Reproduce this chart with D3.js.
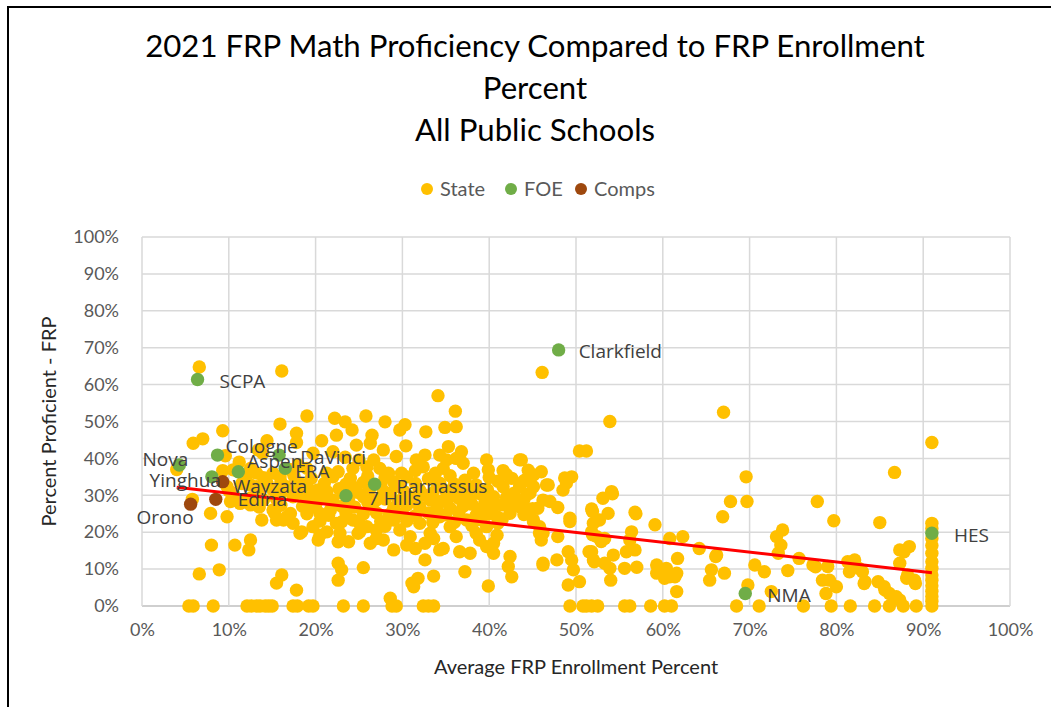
<!DOCTYPE html>
<html lang="en">
<head>
<meta charset="UTF-8" />
<title>2021 FRP Math Proficiency Compared to FRP Enrollment Percent</title>
<script src="https://d3js.org/d3.v7.min.js"></script>
<style>
  body { margin: 0; background: #fff; }
  svg { display: block; }
  .title { font-family: Lato, "Open Sans", sans-serif; fill: #000; }
  .tick-label { font-family: Lato, "Open Sans", sans-serif; font-size: 18px; fill: #595959; }
  .axis-title { font-family: Lato, "Open Sans", sans-serif; font-size: 20px; fill: #262626; }
  .legend-label { font-family: Lato, "Open Sans", sans-serif; font-size: 20px; fill: #595959; }
  .dlabel { font-family: "Open Sans", sans-serif; font-size: 19px; fill: #404040; }
</style>
</head>
<body>
<svg id="chart" width="1051" height="707"></svg>
<script>
// ---- data (percent) ----
const titleLines = ["2021 FRP Math Proficiency Compared to FRP Enrollment", "Percent", "All Public Schools"];
const seriesNames = ["State", "FOE", "Comps"];
const seriesColors = ["#FFC000", "#70AD47", "#9E480E"];
const xTicks = [0, 10, 20, 30, 40, 50, 60, 70, 80, 90, 100];
const yTicks = [0, 10, 20, 30, 40, 50, 60, 70, 80, 90, 100];

const statePoints = [
  [6.6,64.8],[16.1,63.7],[46.1,63.3],[34.1,57.0],[36.1,52.8],[67.0,52.5],[53.9,50.0],[34.9,48.4],[36.2,48.6],
  [19.0,51.5],[22.2,50.9],[23.4,49.9],[25.8,51.5],[28.0,49.9],[15.9,49.3],[9.3,47.5],[17.8,46.8],[22.4,46.3],
  [24.2,47.7],[26.5,46.3],[29.7,47.7],[30.3,49.1],[32.7,47.2],[7.0,45.3],[5.9,44.1],[14.4,44.8],[17.8,44.3],
  [20.7,44.8],[24.7,43.6],[26.3,44.1],[27.8,42.3],[30.4,43.4],[35.3,43.2],[91.0,44.3],[50.4,42.0],[51.2,42.0],
  [34.3,40.9],[36.8,41.8],[36.2,40.0],[37.0,38.7],[29.3,40.5],[9.6,40.7],[11.2,39.0],[13.9,41.4],[13.4,42.3],
  [19.7,41.4],[22.0,41.8],[23.4,40.3],[25.0,39.6],[26.7,39.6],[31.6,39.6],[32.6,40.9],[39.7,39.6],[43.5,39.6],
  [86.7,36.2],[69.6,35.0],[69.7,28.3],[67.8,28.3],[77.8,28.3],[66.9,24.2],[79.7,23.1],[85.0,22.6],
  [4.0,37.0],[9.3,36.7],[12.5,37.3],[13.2,36.0],[15.1,36.0],[15.9,35.0],[19.0,37.3],[21.3,36.0],[22.6,36.4],
  [24.3,37.3],[25.9,37.7],[27.4,37.3],[28.4,36.0],[29.9,36.0],[31.5,36.7],[32.4,37.7],[33.8,36.0],[34.7,37.3],
  [35.1,39.6],[37.2,34.1],[38.2,36.0],[39.9,36.9],[41.6,36.7],[42.6,34.6],[44.1,34.1],[45.1,35.5],[46.0,36.4],
  [46.6,32.8],[9.8,32.3],[10.5,30.5],[11.3,28.7],[13.2,32.3],[14.4,33.3],[15.1,31.4],[16.7,32.3],[17.4,29.6],
  [18.2,33.3],[19.7,29.6],[21.3,31.0],[22.0,28.7],[23.2,30.5],[24.3,32.3],[25.5,29.6],[27.0,28.7],[28.6,30.5],
  [29.7,32.3],[30.9,29.6],[32.0,31.4],[33.2,28.7],[34.3,33.3],[35.5,29.6],[36.6,31.4],[37.8,28.7],[38.9,30.5],
  [40.5,29.6],[41.6,32.3],[42.8,30.5],[43.9,27.8],[45.1,32.3],[46.2,28.7],[5.8,28.9],
  [7.9,25.1],[9.8,24.2],[13.8,23.3],[15.1,26.0],[15.5,23.3],[16.7,24.2],[17.4,22.4],[18.2,19.7],[19.7,21.5],
  [20.5,25.1],[21.7,26.0],[10.2,28.3],[11.3,27.8],[12.5,27.4],[15.3,25.1],[16.3,23.3],[17.1,25.1],[18.4,20.1],
  [20.5,19.2],[21.3,20.1],[22.4,22.4],[22.8,19.7],[24.3,23.3],[25.1,20.1],[25.9,21.5],[27.0,20.6],[27.8,17.9],
  [29.0,23.3],[29.7,20.6],[30.9,18.8],[32.0,22.4],[33.2,19.7],[34.3,24.2],[35.5,21.5],[36.2,18.8],[37.4,23.3],
  [38.5,19.7],[39.7,21.5],[40.5,17.0],[40.9,24.2],[42.4,25.1],[43.5,26.9],[45.1,23.3],[45.8,21.5],[46.2,19.7],
  [12.5,17.9],[12.3,15.2],[10.7,16.5],[8.0,16.5],[20.3,17.9],[22.6,17.4],[23.8,17.4],[24.9,19.7],[26.3,17.0],
  [27.0,18.3],[29.0,15.2],[30.5,16.5],[31.5,15.6],[32.6,17.0],[33.6,18.3],[34.3,15.2],[36.6,14.7],[37.8,14.3],
  [38.9,17.9],[40.5,14.3],[46.0,17.9],[34.7,15.6],[39.7,16.1],[40.9,19.2],[42.4,13.4],[42.2,10.7],[42.6,7.9],
  [6.6,8.7],[8.9,9.8],[16.1,8.4],[15.5,6.2],[17.8,4.3],[22.6,11.6],[23.0,9.8],[22.6,7.0],[25.5,10.4],[28.6,2.1],
  [31.3,5.2],[31.8,7.5],[32.6,12.5],[33.6,8.1],[37.2,9.3],[39.9,5.4],[46.2,11.6],[31.1,6.2],
  [43.7,39.6],[44.7,35.0],[43.9,33.7],[46.8,32.8],[49.5,35.0],[48.9,33.3],[48.5,31.4],[44.3,30.1],[43.5,27.8],
  [54.1,31.0],[53.1,29.2],[47.0,28.3],[47.9,26.7],[45.6,26.5],[56.8,25.4],[51.8,26.3],[53.7,25.1],[52.7,23.3],
  [49.3,23.8],[45.1,22.8],[45.8,19.7],[52.0,22.4],[51.8,20.1],[52.4,18.8],[59.1,22.0],[47.9,18.8],[56.4,20.1],
  [56.2,17.9],[56.8,15.2],[55.8,14.7],[53.3,18.3],[60.8,18.3],[62.3,18.8],[64.2,15.6],[51.8,14.7],[52.0,12.5],
  [53.3,11.6],[54.3,13.8],[53.9,10.2],[49.1,14.7],[49.5,12.5],[47.8,12.5],[46.2,11.1],[49.7,9.8],[66.2,13.8],
  [61.7,12.9],[55.6,10.2],[57.0,10.5],[59.3,11.1],[59.3,8.9],[60.4,10.2],[60.8,7.9],[61.6,8.9],[65.6,9.8],
  [65.4,7.0],[67.1,8.9],[70.6,11.1],[71.7,9.3],[49.1,5.7],[50.4,6.6],[54.0,7.0],[61.6,3.9],[69.8,5.7],
  [48.7,34.7],[49.3,22.9],[51.9,25.6],[54.2,30.4],[51.9,19.3],[52.9,17.5],[51.5,14.7],[52.1,12.0],[56.9,25.0],
  [66.1,13.4],[60.2,7.5],[61.4,7.9],
  [73.8,20.6],[73.1,18.8],[73.6,16.5],[73.3,14.3],[87.3,15.2],[88.4,16.1],[87.8,14.7],[75.7,12.9],[77.3,11.1],
  [79.0,10.7],[74.4,9.6],[81.3,12.0],[82.1,12.5],[81.5,9.3],[82.6,10.2],[83.0,9.3],[87.3,11.6],[88.2,8.4],
  [89.0,7.0],[78.4,7.0],[79.2,7.0],[80.0,5.2],[78.8,3.4],[83.3,6.6],[84.8,6.6],[85.5,5.2],[86.1,3.4],[86.9,2.5],
  [87.3,1.6],[72.5,3.9],[77.6,10.6],[83.2,6.1],[85.6,4.3],[88.1,7.5],[89.1,6.1],
  [91.0,22.4],[91.0,21.0],[91.0,18.3],[91.0,16.4],[91.0,14.3],[91.0,12.0],[91.0,10.2],[91.0,8.4],[91.0,7.0],
  [91.0,5.5],[91.0,4.0],[91.0,2.6],[91.0,1.3],
  [5.4,0],[5.9,0],[8.2,0],[12.1,0],[12.6,0],[13.2,0],[13.6,0],[14.2,0],[14.6,0],[15.0,0],[17.4,0],[17.9,0],
  [19.2,0],[19.7,0],[23.2,0],[25.5,0],[28.8,0],[29.3,0],[32.4,0],[33.0,0],[33.6,0],[49.3,0],[50.8,0],[51.2,0],
  [51.8,0],[52.5,0],[55.6,0],[56.2,0],[58.6,0],[60.2,0],[61.0,0],[68.5,0],[71.1,0],[76.2,0],[79.4,0],[81.6,0],
  [84.4,0],[86.1,0],[87.7,0],[89.2,0],[91.0,0],
  [22.0,35.0],[24.0,34.6],[26.0,35.2],[28.0,34.8],[30.5,35.0],[33.0,34.5],[35.5,35.3],[40.0,34.8],[42.0,35.6],
  [44.5,36.8],[21.0,33.2],[23.5,33.0],[25.5,33.5],[27.5,32.8],[29.0,33.6],[31.5,33.2],[34.0,32.5],[36.0,33.0],
  [38.5,32.8],[41.0,33.8],[43.5,32.4],[20.2,31.4],[22.7,31.8],[24.8,30.8],[26.2,31.5],[27.8,31.2],[30.2,31.0],
  [33.5,30.6],[35.0,31.2],[37.5,31.0],[39.8,31.5],[42.0,29.4],[44.7,30.6],[19.0,28.9],[21.0,29.3],[23.8,28.6],
  [26.0,28.2],[28.0,29.0],[29.5,28.5],[31.5,28.2],[32.5,30.0],[34.5,28.4],[36.5,29.2],[38.0,27.6],[39.5,28.2],
  [41.5,27.4],[44.0,29.0],[18.5,27.0],[20.0,27.3],[23.0,27.0],[24.5,26.8],[26.5,27.1],[29.0,26.6],[30.5,27.3],
  [32.0,26.8],[34.0,26.9],[35.5,26.5],[37.0,27.0],[39.0,26.3],[40.5,26.9],[42.5,27.6],[45.0,26.4],[19.0,25.0],
  [21.5,24.6],[23.5,25.2],[25.5,24.9],[27.0,25.3],[28.5,24.8],[30.0,25.0],[31.5,24.5],[33.0,25.2],[35.0,24.7],
  [36.5,25.3],[38.5,24.6],[40.0,25.0],[41.5,23.6],[44.0,24.8],[20.5,23.0],[23.0,22.8],[25.0,22.6],[27.5,22.9],
  [28.0,21.6],[30.5,23.0],[33.5,22.6],[36.0,22.7],[38.0,21.8],[39.0,23.4],[41.0,22.4],
  [10.5,36.9],[17.0,37.0],[18.0,38.2],[12.0,35.0],[14.0,34.8],[17.5,35.3],[19.5,34.6],[11.5,33.2],[12.5,32.8],
  [16.0,33.6],[19.0,32.6],[10.0,31.2],[13.5,30.8],[16.0,30.5],[17.8,31.2],[12.5,29.2],[14.0,28.8],[15.5,29.0],
  [18.8,29.6],[13.5,26.8],[16.0,27.3],[19.5,26.8]
];

const foeNames = ["SCPA", "Nova", "Cologne", "Aspen", "DaVinci", "ERA", "Yinghua", "7 Hills", "Parnassus", "Clarkfield", "NMA", "HES"];
const foeX = [6.4, 4.3, 8.7, 11.1, 15.8, 16.5, 8.05, 23.5, 26.8, 48.0, 69.5, 91.0];
const foeY = [61.4, 38.2, 40.9, 36.4, 40.9, 37.3, 35.0, 29.9, 33.0, 69.4, 3.4, 19.7];

const compNames = ["Wayzata", "Edina", "Orono"];
const compX = [9.3, 8.5, 5.6];
const compY = [33.7, 28.9, 27.6];

// linear trendline end points
const trendX = [4.0, 91.0];
const trendY = [32.2, 9.0];

// label placement: [dx, dy, anchor]
const labelPos = {
  "SCPA": [22, 2, "start"], "Nova": [9, -6, "end"], "Cologne": [8, -9, "start"],
  "Aspen": [9, -10, "start"], "DaVinci": [21, 2, "start"], "ERA": [10, 3, "start"],
  "Yinghua": [9, 3, "end"], "7 Hills": [22, 3, "start"], "Parnassus": [22, 2, "start"],
  "Clarkfield": [20, 1, "start"], "NMA": [22, 2, "start"], "HES": [22, 2, "start"],
  "Wayzata": [10, 5, "start"], "Edina": [22, 0, "start"], "Orono": [3, 13, "end"]
};

// ---- layout ----
const svg = d3.select("#chart");
const plot = { left: 142, right: 1010, top: 237, bottom: 606 };
const x = d3.scaleLinear().domain([0, 100]).range([plot.left, plot.right]);
const y = d3.scaleLinear().domain([0, 100]).range([plot.bottom, plot.top]);
const r = 6.7;

// outer chart border (top and left visible)
svg.append("rect")
  .attr("x", 8).attr("y", 7).attr("width", 1100).attr("height", 800)
  .attr("fill", "none").attr("stroke", "#000").attr("stroke-width", 2);

// title
const titleG = svg.append("g");
titleG.selectAll("text")
  .data(titleLines)
  .join("text")
  .attr("class", "title")
  .attr("x", 535)
  .attr("y", (d, i) => 57 + i * 42)
  .attr("text-anchor", "middle")
  .style("font-size", "30px")
  .text(d => d);
// scale the title to the width of the reference
const w0 = titleG.select("text").node().getComputedTextLength();
titleG.selectAll("text").style("font-size", (30 * 780 / w0) + "px");

// legend
const legendX = [427, 511, 581];
const legend = svg.append("g");
seriesNames.forEach((name, i) => {
  legend.append("circle").attr("cx", legendX[i]).attr("cy", 189).attr("r", 6).attr("fill", seriesColors[i]);
  legend.append("text").attr("class", "legend-label")
    .attr("x", legendX[i] + 13).attr("y", 189).attr("dy", "0.35em").text(name);
});

// gridlines
const grid = svg.append("g");
grid.selectAll(".hgrid").data(yTicks).join("line")
  .attr("x1", plot.left).attr("x2", plot.right)
  .attr("y1", d => y(d)).attr("y2", d => y(d))
  .attr("stroke", d => d === 0 ? "#bfbfbf" : "#d9d9d9").attr("stroke-width", 1.5);
grid.selectAll(".vgrid").data(xTicks).join("line")
  .attr("y1", plot.top).attr("y2", plot.bottom)
  .attr("x1", d => x(d)).attr("x2", d => x(d))
  .attr("stroke", "#d9d9d9").attr("stroke-width", 1.5);

// axes (labels only)
const xAxis = svg.append("g").attr("transform", `translate(0,${plot.bottom + 14})`)
  .call(d3.axisBottom(x).tickValues(xTicks).tickSize(0).tickFormat(d => d + "%"));
const yAxis = svg.append("g").attr("transform", `translate(${plot.left - 20},0)`)
  .call(d3.axisLeft(y).tickValues(yTicks).tickSize(0).tickFormat(d => d + "%"));
[xAxis, yAxis].forEach(a => {
  a.select(".domain").remove();
  a.selectAll("text").attr("class", "tick-label").attr("font-family", null).attr("font-size", null);
});

// axis titles
svg.append("text").attr("class", "axis-title")
  .attr("x", (plot.left + plot.right) / 2).attr("y", 674)
  .attr("text-anchor", "middle").text("Average FRP Enrollment Percent");
svg.append("text").attr("class", "axis-title")
  .attr("transform", `translate(56,${(plot.top + plot.bottom) / 2}) rotate(-90)`)
  .attr("text-anchor", "middle").text("Percent Proficient - FRP");

// points
svg.append("g").selectAll("circle").data(statePoints).join("circle")
  .attr("cx", d => x(d[0])).attr("cy", d => y(d[1])).attr("r", r)
  .attr("fill", seriesColors[0]);

// trendline
svg.append("line")
  .attr("x1", x(trendX[0])).attr("y1", y(trendY[0]))
  .attr("x2", x(trendX[1])).attr("y2", y(trendY[1]))
  .attr("stroke", "#FF0000").attr("stroke-width", 3);

const foe = foeNames.map((n, i) => ({ name: n, x: foeX[i], y: foeY[i] }));
const comps = compNames.map((n, i) => ({ name: n, x: compX[i], y: compY[i] }));

svg.append("g").selectAll("circle").data(foe).join("circle")
  .attr("cx", d => x(d.x)).attr("cy", d => y(d.y)).attr("r", r)
  .attr("fill", seriesColors[1]);
svg.append("g").selectAll("circle").data(comps).join("circle")
  .attr("cx", d => x(d.x)).attr("cy", d => y(d.y)).attr("r", r)
  .attr("fill", seriesColors[2]);

// data labels
svg.append("g").selectAll("text").data(foe.concat(comps)).join("text")
  .attr("class", "dlabel")
  .attr("x", d => x(d.x) + labelPos[d.name][0])
  .attr("y", d => y(d.y) + labelPos[d.name][1])
  .attr("dy", "0.35em")
  .attr("text-anchor", d => labelPos[d.name][2])
  .text(d => d.name);
</script>
</body>
</html>
